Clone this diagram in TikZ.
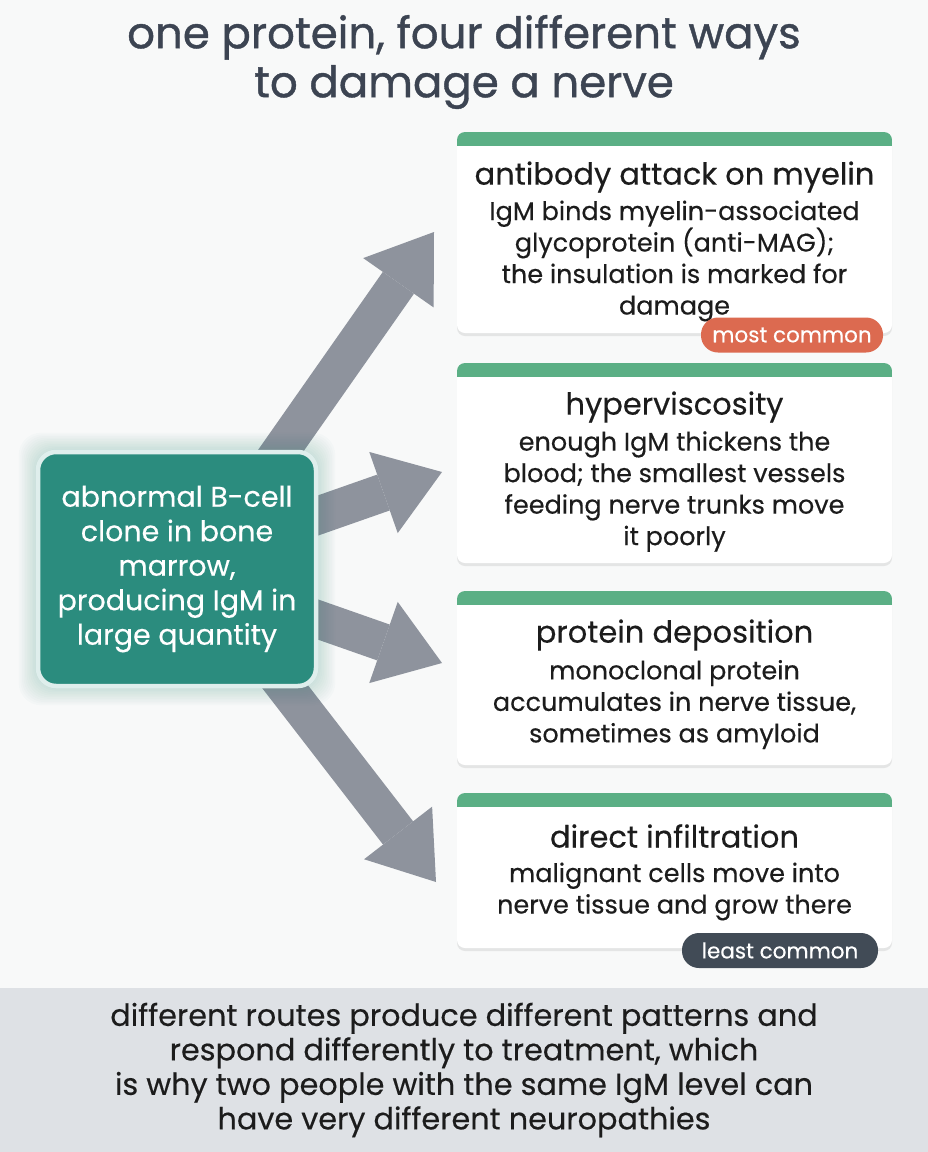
\documentclass[tikz,border=0pt]{standalone}
\usepackage{fontspec}
\setmainfont{Poppins}[FakeBold=0.35]
\newfontfamily\headfont{Poppins}[FakeBold=0.9]
\usepackage{xcolor}
\usepackage{tikz}
\usetikzlibrary{arrows.meta,positioning,calc,shadows}
\definecolor{pagebg}{HTML}{F8F9F9}
\definecolor{titlecol}{HTML}{3C4452}
\definecolor{tealbox}{HTML}{2B8C7E}
\definecolor{arrowgray}{HTML}{8E939D}
\definecolor{cardbar}{HTML}{5BAF85}
\definecolor{coral}{HTML}{DC6A50}
\definecolor{slate}{HTML}{414B56}
\definecolor{bandgray}{HTML}{DEE1E5}
\definecolor{ink}{HTML}{1C1C1C}
\tikzset{
  headline/.style={align=center, text=titlecol, font=\headfont\fontsize{43.5}{49}\selectfont},
  src/.style={rectangle, draw=white!85!tealbox, line width=4.5pt, rounded corners=18pt,
              fill=tealbox, text=white, align=center, minimum width=278pt,
              minimum height=234pt, font=\fontsize{28.5}{34.5}\selectfont},
  card/.style={rectangle, rounded corners=8pt, fill=white, minimum width=435pt,
               drop shadow={opacity=0.16, shadow xshift=0pt, shadow yshift=-3pt},
               path picture={\fill[cardbar, sharp corners] (path picture bounding box.north west)
                 rectangle ([yshift=-14pt]path picture bounding box.north east);}},
  ctitle/.style={text=ink, font=\fontsize{30.5}{34}\selectfont, inner sep=0pt},
  cbody/.style={text=ink, align=center, font=\fontsize{25.5}{31.5}\selectfont, inner sep=0pt},
  pill/.style={rectangle, rounded corners=17pt, text=white, minimum height=35pt,
               font=\fontsize{21.5}{24}\selectfont},
  band/.style={rectangle, fill=bandgray, align=center, text=ink, minimum width=928pt,
               minimum height=164pt, font=\fontsize{30.3}{34.5}\selectfont},
  bigarr/.style={draw=arrowgray, line width=38pt,
                 -{Triangle[length=62pt, width=86pt, line width=0pt]}},
}

\begin{document}
\begin{tikzpicture}[x=1pt, y=-1pt]
\fill[pagebg] (0,0) rectangle (928,1152);
\useasboundingbox (0,0) rectangle (928,1152);

\node[headline] (title) at (464,62) {one protein, four different ways\\to damage a nerve};

% arrow tips, just short of the cards
\coordinate (t1) at (434,232);
\coordinate (t2) at (442,472);
\coordinate (t3) at (442,663);
\coordinate (t4) at (436,882);
\coordinate (s0) at (177,569);

\draw[bigarr] ($(s0)+(86,-93)$) -- (t1);
\draw[bigarr] ($(s0)+(111,-43)$) -- (t2);
\draw[bigarr] ($(s0)+(111,40)$) -- (t3);
\draw[bigarr] ($(s0)+(89,93)$) -- (t4);

% soft glow
\foreach \g in {1,...,12}
  \fill[tealbox, opacity=0.018, rounded corners=22pt]
    (38-1.6*\g,452-1.6*\g) rectangle (316+1.6*\g,686+1.6*\g);
\node[src] (src) at (s0) {abnormal B-cell\\clone in bone\\marrow,\\producing IgM in\\large quantity};

\node[card, minimum height=201pt] (c1) at (674.5,232.5) {};
\node[card, minimum height=200pt] (c2) at (674.5,463) {};
\node[card, minimum height=174pt] (c3) at (674.5,678) {};
\node[card, minimum height=155pt] (c4) at (674.5,870.5) {};

\node[ctitle] (h1) at (674.5,177) {antibody attack on myelin};
\node[cbody] (b1) at (674.5,261) {IgM binds myelin-associated\\glycoprotein (anti-MAG);\\the insulation is marked for\\damage};
\node[ctitle] (h2) at (674.5,407) {hyperviscosity};
\node[cbody] (b2) at (674.5,491.5) {enough IgM thickens the\\blood; the smallest vessels\\feeding nerve trunks move\\it poorly};
\node[ctitle] (h3) at (674.5,635) {protein deposition};
\node[cbody] (b3) at (674.5,704.5) {monoclonal protein\\accumulates in nerve tissue,\\sometimes as amyloid};
\node[ctitle] (h4) at (674.5,836) {direct infiltration};
\node[cbody] (b4) at (674.5,891.5) {malignant cells move into\\nerve tissue and grow there};

\node[pill, fill=coral, minimum width=182pt] (most) at (792,335) {most common};
\node[pill, fill=slate, minimum width=196pt] (least) at (780,950.5) {least common};

\node[band] (note) at (464,1070) {different routes produce different patterns and\\respond differently to treatment, which\\is why two people with the same IgM level can\\have very different neuropathies};
\end{tikzpicture}
\end{document}
